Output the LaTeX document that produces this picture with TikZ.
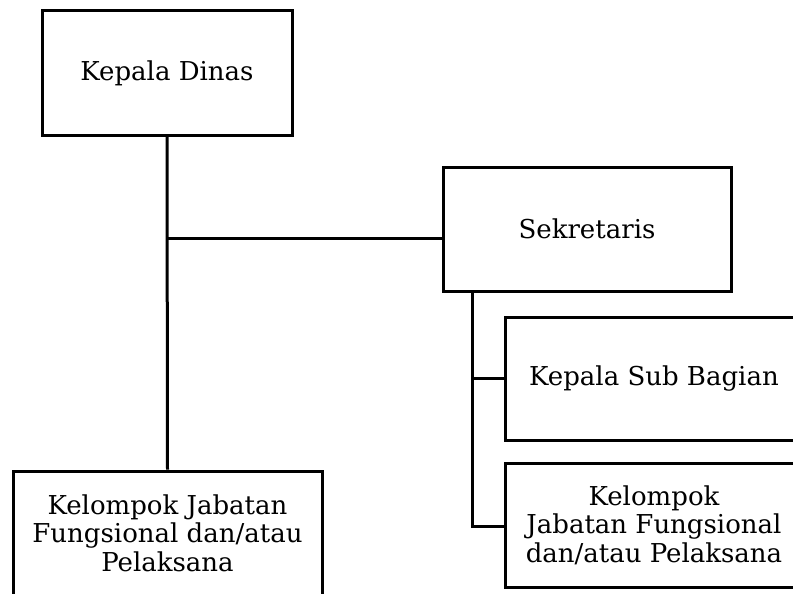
\documentclass[tikz,border=0pt]{standalone}
\usepackage{fontspec}
\setmainfont{DejaVu Serif}
\begin{document}
\begin{tikzpicture}[x=1pt,y=-1pt,
  unit/.style={draw=black, line width=3pt, rectangle, align=center,
    inner sep=0pt, font=\fontsize{26}{28.5}\selectfont},
  link/.style={draw=black, line width=3pt}]
  \clip (0,0) rectangle (793,594);
  \useasboundingbox (0,0) rectangle (793,594);

  % head of the office
  \node[unit, minimum width=250pt, minimum height=124pt] (kd) at (167,73) {Kepala Dinas};
  % secretary and its sub-units
  \node[unit, minimum width=288pt, minimum height=124pt] (sek) at (587,229) {Sekretaris};
  \node[unit, minimum width=298pt, minimum height=123pt] (ksb) at (654,378.5) {Kepala Sub Bagian};
  \node[unit, minimum width=298pt, minimum height=124pt] (kjr) at (654,525)
    {Kelompok\\Jabatan Fungsional\\dan/atau Pelaksana};
  % functional group under the head
  \node[unit, minimum width=309pt, minimum height=124pt] (kjl) at (167.5,533)
    {Kelompok Jabatan\\Fungsional dan/atau\\Pelaksana};

  % main vertical line and branch to the secretary
  \coordinate (j) at (167,238);
  \draw[link] (kd.south) -- (kjl.north);
  \draw[link] (j) -- (j -| sek.west);

  % secretary branch line
  \coordinate (s) at (472,291);
  \coordinate (sb) at (472,526);
  \draw[link] (s) -- (sb) -- (sb -| kjr.west);
  \draw[link] (s |- ksb.west) -- (ksb.west);
\end{tikzpicture}
\end{document}
